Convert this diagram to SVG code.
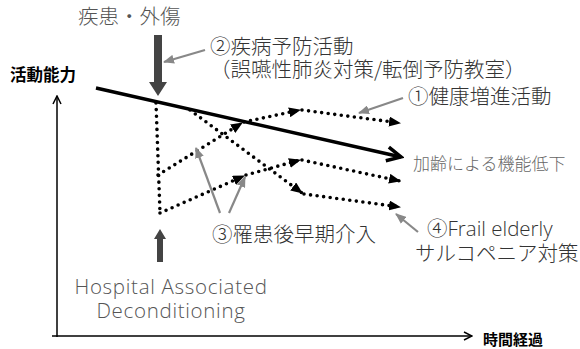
<svg xmlns="http://www.w3.org/2000/svg" width="580" height="349" viewBox="0 0 580 349">
<style>
.jp{font-family:"Noto Sans CJK JP","Noto Sans",sans-serif;font-weight:300;}
.lat{font-family:"Open Sans","Noto Sans CJK JP",sans-serif;font-weight:300;}
.lbl{fill:#333;font-size:20.5px;}
.gl{fill:#555;}
.bold{font-weight:bold;fill:#000;}
.dot{stroke:#000;stroke-width:3.6;stroke-linecap:round;stroke-dasharray:0 6.6;fill:none;}
.ga{stroke:#888;stroke-width:2.2;fill:none;marker-end:url(#gh);}
.ax{stroke:#000;stroke-width:1.5;fill:none;marker-end:url(#ah);}
</style>
<defs>
<marker id="dh" markerUnits="userSpaceOnUse" markerWidth="12" markerHeight="10" refX="11" refY="5" orient="auto" viewBox="0 0 12 10">
<path d="M0,0 L12,5 L0,10 z" fill="#000"/>
</marker>
<marker id="gh" markerUnits="userSpaceOnUse" markerWidth="11" markerHeight="9" refX="10" refY="4.5" orient="auto" viewBox="0 0 11 9">
<path d="M0,0 L11,4.5 L0,9 z" fill="#888"/>
</marker>
<marker id="ah" markerUnits="userSpaceOnUse" markerWidth="10" markerHeight="10" refX="9" refY="5" orient="auto" viewBox="0 0 10 10">
<path d="M1,1 L9,5 L1,9" fill="none" stroke="#000" stroke-width="1.5"/>
</marker>
<marker id="mh" markerUnits="userSpaceOnUse" markerWidth="20" markerHeight="20" refX="17" refY="10" orient="auto" viewBox="0 0 20 20">
<path d="M3,3 L17,10 L3,17" fill="none" stroke="#000" stroke-width="3.5"/>
</marker>
</defs>

<g id="axes">
<line class="ax" x1="57" y1="337" x2="57" y2="96"/>
<line class="ax" x1="52" y1="336" x2="472" y2="336"/>
<text class="jp bold" x="10" y="81" font-size="16.5">活動能力</text>
<text class="jp bold" x="483" y="345" font-size="15">時間経過</text>
</g>

<g id="aging">
<line x1="96" y1="88" x2="401" y2="157" stroke="#000" stroke-width="3.5" marker-end="url(#mh)"/>
<text class="jp" x="413" y="170" fill="#666" font-size="17">加齢による機能低下</text>
</g>

<g id="disease">
<text class="jp gl" x="78" y="24" font-size="20.5">疾患・外傷</text>
<path d="M154,35 H162 V82 H167 L158,96 L149,82 H154 Z" fill="#444"/>
</g>

<g id="hospital">
<path d="M157,262 V239 H154 L160,229 L166,239 H163 V262 Z" fill="#444"/>
<text class="lat gl" x="171" y="294" font-size="20.5" letter-spacing="0.7" text-anchor="middle">Hospital Associated</text>
<text class="lat gl" x="171" y="318" font-size="20.5" letter-spacing="0.7" text-anchor="middle">Deconditioning</text>
</g>

<g id="connectors">
<line class="dot" x1="156" y1="103" x2="160" y2="213"/>
<line class="dot" x1="158" y1="175" x2="242" y2="123" marker-end="url(#dh)"/>
<line class="dot" x1="244" y1="122" x2="300" y2="110" marker-end="url(#dh)"/>
<line class="dot" x1="302" y1="110" x2="400" y2="123" marker-end="url(#dh)"/>
<line class="dot" x1="160" y1="213" x2="244" y2="176" marker-end="url(#dh)"/>
<line class="dot" x1="246" y1="175" x2="300" y2="160" marker-end="url(#dh)"/>
<line class="dot" x1="302" y1="160" x2="400" y2="181" marker-end="url(#dh)"/>
<line class="dot" x1="190" y1="110" x2="302" y2="193" marker-end="url(#dh)"/>
<line class="dot" x1="304" y1="194" x2="400" y2="207" marker-end="url(#dh)"/>
</g>

<g id="label2">
<text class="jp lbl" x="210" y="54">②疾病予防活動</text>
<text class="jp lbl" x="210" y="77">（誤嚥性肺炎対策/転倒予防教室）</text>
<line class="ga" x1="205" y1="50" x2="164" y2="62"/>
</g>

<g id="label1">
<text class="jp lbl" x="408" y="104">①健康増進活動</text>
<line class="ga" x1="403" y1="98" x2="359" y2="113"/>
</g>

<g id="label3">
<text class="jp lbl" x="212" y="242">③罹患後早期介入</text>
<line class="ga" x1="220" y1="213" x2="196" y2="148"/>
<line class="ga" x1="229" y1="213" x2="245" y2="177"/>
</g>

<g id="label4">
<text class="jp lbl" x="427" y="236">④<tspan class="lat" font-weight="400">Frail elderly</tspan></text>
<text class="jp lbl" x="415" y="261">サルコペニア対策</text>
<line class="ga" x1="418" y1="232" x2="396" y2="214"/>
</g>
</svg>
